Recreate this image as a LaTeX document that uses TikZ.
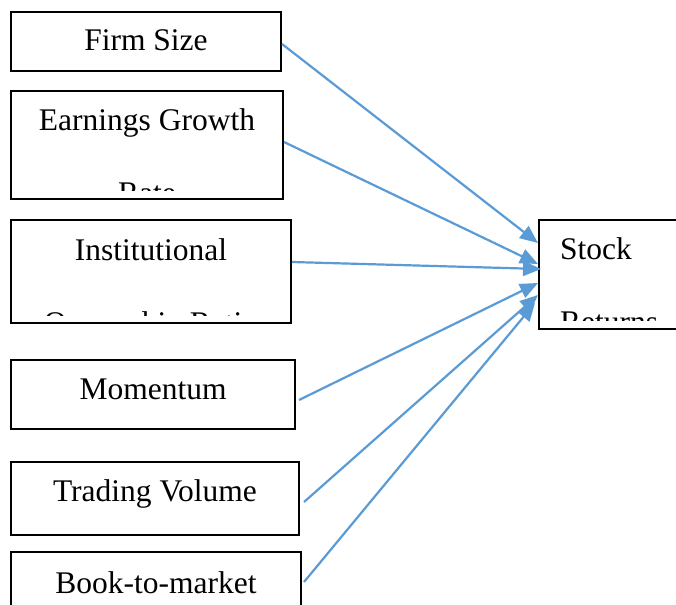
\documentclass[tikz,border=0pt]{standalone}
\usepackage{fontspec}
\setmainfont{Liberation Serif}
\usepackage{tikz}
\usetikzlibrary{arrows.meta}

\definecolor{arrowblue}{HTML}{5B9BD5}

\tikzset{
  box/.style={draw, line width=2pt, inner sep=0pt, anchor=north west},
  lbl/.style={font=\fontsize{31.5pt}{73pt}\selectfont, inner sep=0pt, anchor=base},
  link/.style={draw=arrowblue, line width=2.2pt, -{Triangle[length=18pt,width=15pt]}}
}

\begin{document}
\begin{tikzpicture}[x=1pt,y=-1pt]
	\clip (0,0) rectangle (676,604);
	\fill[white] (0,0) rectangle (676,604);

	% factor boxes
	\node[box, minimum width=270pt, minimum height=59pt] (size) at (10,11) {};
	\node[box, minimum width=272pt, minimum height=108pt] (growth) at (10,90) {};
	\node[box, minimum width=280pt, minimum height=103pt] (owner) at (10,219) {};
	\node[box, minimum width=284pt, minimum height=69pt] (momentum) at (10,359) {};
	\node[box, minimum width=288pt, minimum height=73pt] (volume) at (10,461) {};
	\node[box, minimum width=290pt, minimum height=80pt] (book) at (10,551) {};
	\node[box, minimum width=170pt, minimum height=109pt] (stock) at (538,219) {};

	\node[lbl] (sizetext) at ([yshift=-40pt]size.north) {Firm Size};
	\node[lbl] (momentumtext) at ([yshift=-40pt]momentum.north) {Momentum};
	\node[lbl] (volumetext) at ([yshift=-40pt]volume.north) {Trading Volume};
	\node[lbl] (booktext) at ([yshift=-42pt]book.north) {Book-to-market};

	% second lines run past the text area and get cut off
	\begin{scope}
		\clip ([yshift=10pt]growth.south west) rectangle (growth.north east);
		\node[lbl, align=center] (growthtext) at ([yshift=-113pt]growth.north) {Earnings\hspace{8pt}Growth\\Rate};
	\end{scope}
	\begin{scope}
		\clip ([yshift=9pt]owner.south west) rectangle (owner.north east);
		\node[lbl, align=center] (ownertext) at ([yshift=-114pt]owner.north) {Institutional\\Ownership Ratio};
	\end{scope}
	\begin{scope}
		\clip ([yshift=10pt]stock.south west) rectangle (stock.north east);
		\node[lbl, align=left, anchor=base west] (stocktext) at ([xshift=22pt,yshift=-113pt]stock.north west) {Stock\\Returns};
	\end{scope}

	% all factors point to stock returns
	\draw[link] ([yshift=-2.5pt]size.east) -- ([yshift=31.5pt]stock.west);
	\draw[link] ([yshift=3pt]growth.east) -- ([yshift=10.5pt]stock.west);
	\draw[link] ([yshift=9.5pt]owner.east) -- ([xshift=3pt,yshift=5.5pt]stock.west);
	\draw[link] ([xshift=3pt,yshift=-5.5pt]momentum.east) -- ([yshift=-8.5pt]stock.west);
	\draw[link] ([xshift=4pt,yshift=-3.5pt]volume.east) -- ([yshift=-20.5pt]stock.west);
	\draw[link] ([xshift=2pt,yshift=10pt]book.east) -- ([xshift=-3pt,yshift=-28.5pt]stock.west);
\end{tikzpicture}
\end{document}
